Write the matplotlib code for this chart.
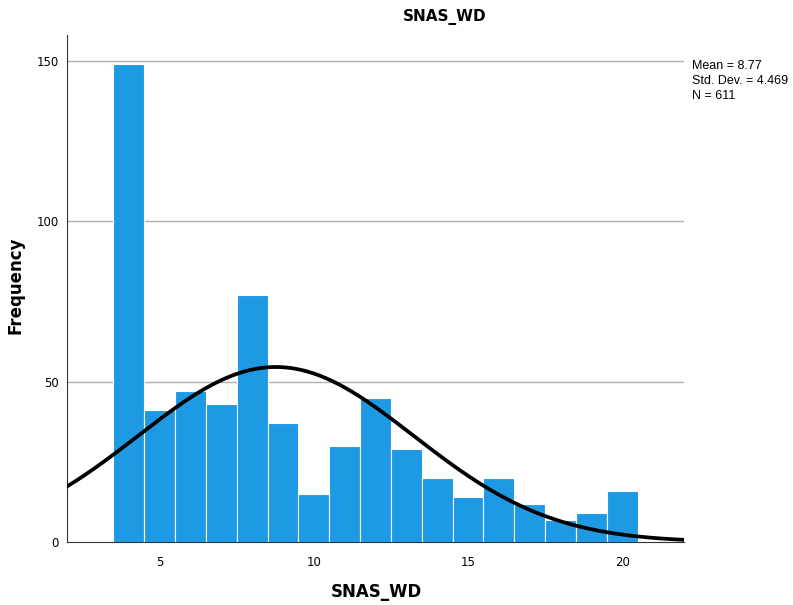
import numpy as np
import matplotlib
matplotlib.use('Agg')
from matplotlib import pyplot as plt

# 直方图数据 (每个整数一个箱)
bin_centers = [4, 5, 6, 7, 8, 9, 10, 11, 12, 13, 14, 15, 16, 17, 18, 19, 20]
counts = [149, 41, 47, 43, 77, 37, 15, 30, 45, 29, 20, 14, 20, 12, 7, 9, 16]
mean = 8.77
std_dev = 4.469
n_total = 611

plt.rcParams['font.family'] = ['DejaVu Sans']

fig = plt.figure(figsize=(7.93, 6.05), dpi=100)
ax = fig.add_axes([0.0845, 0.1041, 0.778, 0.838])

# 网格线
for v in [50, 100, 150]:
    ax.axhline(v, color='#b0b0b0', linewidth=1.0, zorder=0)

ax.bar(bin_centers, counts, width=1.0, color='#1e99e4', edgecolor='white',
       linewidth=0.8, zorder=2)

# 正态曲线
xs = np.linspace(2, 22, 400)
ys = n_total * 1.0 / (std_dev * np.sqrt(2 * np.pi)) * np.exp(-0.5 * ((xs - mean) / std_dev) ** 2)
ax.plot(xs, ys, color='black', linewidth=2.7, zorder=3)

ax.set_xlim(2, 22)
ax.set_ylim(0, 158)
ax.set_xticks([5, 10, 15, 20])
ax.set_yticks([0, 50, 100, 150])
ax.tick_params(length=0, labelsize=8.5, pad=6)
ax.tick_params(axis='x', pad=10)

for s in ['top', 'right']:
    ax.spines[s].set_visible(False)
ax.spines['left'].set_color('#333333')
ax.spines['bottom'].set_color('#333333')

# 标题和轴标签
fig.text(445 / 793, 1 - 17 / 605, 'SNAS_WD', fontsize=11, fontweight='bold',
         ha='center', va='center')
fig.text(376 / 793, 1 - 592 / 605, 'SNAS_WD', fontsize=12, fontweight='bold',
         ha='center', va='center')
fig.text(16 / 793, 1 - 285 / 605, 'Frequency', fontsize=12, fontweight='bold',
         ha='center', va='center', rotation=90)
fig.text(692 / 793, 1 - 60 / 605, 'Mean = 8.77\nStd. Dev. = 4.469\nN = 611',
         fontsize=9, family='Liberation Sans', ha='left', va='top', linespacing=1.35)

plt.savefig('out.png', dpi=100)
